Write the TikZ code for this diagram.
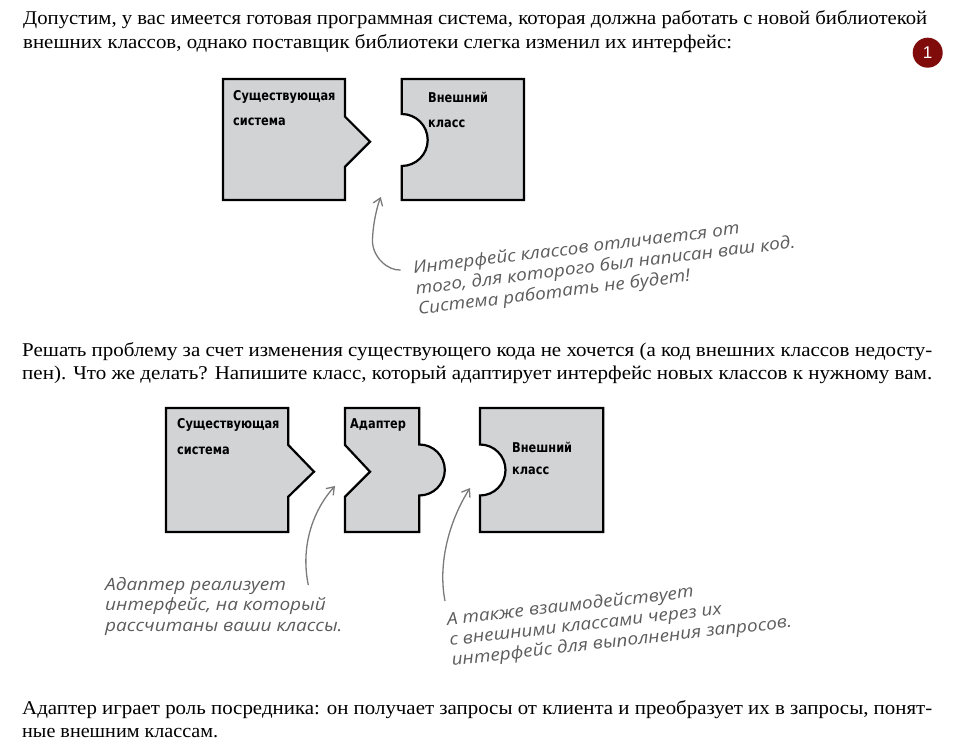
\documentclass[tikz,border=0pt]{standalone}
\usepackage{fontspec}
\usepackage{graphicx}
\usetikzlibrary{arrows.meta}
\setmainfont{Liberation Serif}
\newfontfamily\boxfont[FakeStretch=0.84]{DejaVu Sans}
\newfontfamily\handfont[FakeStretch=1.12]{Open Sans}
\newfontfamily\badgefont{Liberation Sans}
\definecolor{piecegray}{HTML}{D1D3D4}
\definecolor{notegray}{HTML}{5C5C5C}
\definecolor{arrowgray}{HTML}{7A7A7A}
\definecolor{badgered}{HTML}{7F0B0B}
% one printed line, stretched to the width it has on the page
\newcommand{\fitline}[2]{\resizebox{#1}{\height}{#2}}

\tikzset{
  piece/.style={fill=piecegray,draw=black,line width=2.2pt,line join=miter},
  piecelabel/.style={anchor=base west,inner sep=0pt,font=\boxfont\bfseries\fontsize{13.5}{15}\selectfont},
  note/.style={inner sep=0pt,align=left,text=notegray,font=\handfont\itshape\fontsize{17}{20.5}\selectfont},
  notearrow/.style={draw=arrowgray,line width=1.3pt,-{Straight Barb[length=7pt,width=10pt]}},
  para/.style={anchor=base west,inner sep=0pt,font=\fontsize{19.5}{24}\selectfont},
  badge/.style={circle,fill=badgered,minimum size=30pt,inner sep=0pt,text=white,font=\badgefont\fontsize{17}{17}\selectfont}
}

\begin{document}
\begin{tikzpicture}[x=1pt,y=1pt]
  \useasboundingbox (0,0) rectangle (961,745);
  % opening paragraph
  \node[para] (intro1) at (23,720) {\fitline{904pt}{Допустим, у вас имеется готовая программная система, которая должна работать с новой библиотекой}};
  \node[para] (intro2) at (23,696) {\fitline{709pt}{внешних классов, однако поставщик библиотеки слегка изменил их интерфейс:}};
  \node[badge] (num) at (927.7,692.3) {1};

  % pieces that do not fit
  \draw[piece] (223,666) -- (345,666) -- (345,628.3) -- (370,603.3) -- (345,578.3) -- (345,545) -- (223,545) -- cycle;
  \draw[piece] (401.7,666) -- (524,666) -- (524,545) -- (401.7,545) -- (401.7,579) arc[start angle=-90,end angle=90,radius=26] -- cycle;
  \node[piecelabel] (sysA) at (233,644) {Существующая};
  \node[piecelabel] (sysB) at (233,619) {система};
  \node[piecelabel] (extA) at (428,642) {Внешний};
  \node[piecelabel] (extB) at (428,617) {класс};

  \coordinate (tipA) at (380.7,548);
  \coordinate (tailA) at (400.7,475);
  \draw[notearrow] (tailA) .. controls (388,474) and (372,488) .. (372.5,505) .. controls (373,522) and (377,538) .. (tipA);
  \node[note,rotate=7,anchor=north west] (noteA) at (412,484) {Интерфейс классов отличается от\\того, для которого был написан ваш код.\\Система работать не будет!};

  % middle paragraph
  \node[para] (mid1) at (22,388) {\fitline{910pt}{Решать проблему за счет изменения существующего кода не хочется (а код внешних классов недосту-}};
  \node[para] (mid2) at (22,365) {\fitline{910pt}{пен). Что же делать? Напишите класс, который адаптирует интерфейс новых классов к нужному вам.}};

  % pieces joined by the adapter
  \draw[piece] (166,337) -- (288.3,337) -- (288.3,300) -- (314,273.3) -- (288.3,248.3) -- (288.3,213) -- (166,213) -- cycle;
  \draw[piece] (345,337) -- (419.3,337) -- (419.3,300.5) arc[start angle=90,end angle=-90,radius=25.5] -- (419.3,213) -- (345,213) -- (345,248.3) -- (370,273.3) -- (345,300) -- cycle;
  \draw[piece] (480,337) -- (603.3,337) -- (603.3,213) -- (480,213) -- (480,249.5) arc[start angle=-90,end angle=90,radius=25.5] -- cycle;
  \node[piecelabel] (sys2A) at (177,316) {Существующая};
  \node[piecelabel] (sys2B) at (177,290) {система};
  \node[piecelabel] (adapt) at (350,316) {Адаптер};
  \node[piecelabel] (ext2A) at (512,292) {Внешний};
  \node[piecelabel] (ext2B) at (512,270) {класс};

  \coordinate (tipB) at (335,259);
  \coordinate (tailB) at (308.3,160);
  \coordinate (tipC) at (470,257);
  \coordinate (tailC) at (445,144);
  \draw[notearrow] (tailB) .. controls (300,200) and (314,236) .. (tipB);
  \draw[notearrow] (tailC) .. controls (438,180) and (448,222) .. (tipC);
  \node[note,anchor=north west] (noteB) at (105,168) {Адаптер реализует\\интерфейс, на который\\рассчитаны ваши классы.};
  \node[note,rotate=6.5,anchor=north west] (noteC) at (446,133) {А также взаимодействует\\с внешними классами через их\\интерфейс для выполнения запросов.};

  % closing paragraph
  \node[para] (end1) at (22,31) {\fitline{910pt}{Адаптер играет роль посредника: он получает запросы от клиента и преобразует их в запросы, понят-}};
  \node[para] (end2) at (22,8) {\fitline{196pt}{ные внешним классам.}};
\end{tikzpicture}
\end{document}
